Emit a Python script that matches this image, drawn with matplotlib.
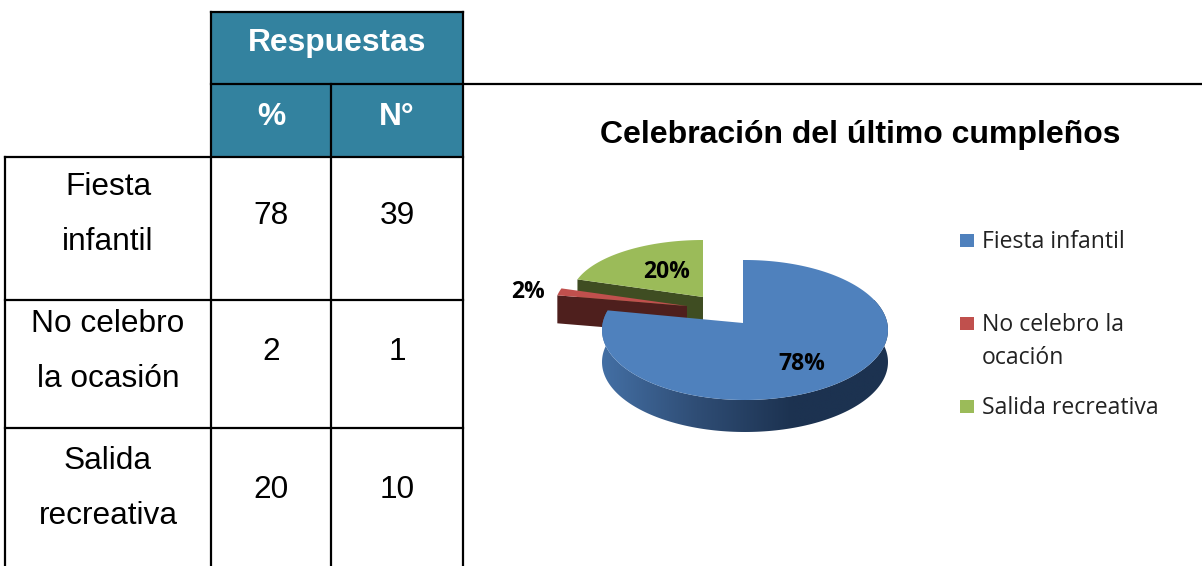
import numpy as np
import matplotlib
matplotlib.use("Agg")
import matplotlib.pyplot as plt
from matplotlib.patches import Polygon, Rectangle
from matplotlib.colors import LinearSegmentedColormap

title = "Celebración del último cumpleños"
header_top = "Respuestas"
header_cols = ["%", "N°"]
row_labels = [["Fiesta", "infantil"], ["No celebro", "la ocasión"], ["Salida", "recreativa"]]
percent = [78, 2, 20]
counts = [39, 1, 10]
legend_labels = [["Fiesta infantil"], ["No celebro la", "ocación"], ["Salida recreativa"]]
colors = ["#4F81BD", "#C0504D", "#9BBB59"]
side_colors = ["#1C3250", "#4E1F1D", "#3F4D22"]

table_font = "Liberation Sans"
chart_font = "Open Sans"
teal = "#33829F"
lw = 1.6

fig = plt.figure(figsize=(12.02, 5.66), dpi=100)
ax = fig.add_axes([0, 0, 1, 1])
ax.set_xlim(0, 1202)
ax.set_ylim(566, 0)
ax.axis("off")

# table
col_x = [5, 211, 331, 463]
row_y = [12, 84, 157, 300, 428, 566]
ax.add_patch(Rectangle((col_x[1], row_y[0]), col_x[3] - col_x[1], row_y[2] - row_y[0], fc=teal, ec="none"))
ax.plot([col_x[1], col_x[3]], [row_y[0]] * 2, "k", lw=lw)
ax.plot([col_x[1], 1202], [row_y[1]] * 2, "k", lw=lw)
for y in row_y[2:5]:
    ax.plot([col_x[0], col_x[3]], [y, y], "k", lw=lw)
ax.plot([col_x[0]] * 2, [row_y[2], 566], "k", lw=lw)
ax.plot([col_x[1]] * 2, [row_y[0], 566], "k", lw=lw)
ax.plot([col_x[2]] * 2, [row_y[1], 566], "k", lw=lw)
ax.plot([col_x[3]] * 2, [row_y[0], 566], "k", lw=lw)

ax.text(337, 43, header_top, color="white", fontsize=22.9, fontweight="bold",
        family=table_font, ha="center", va="center")
for x, s in zip([271, 397], header_cols):
    ax.text(x, 117, s, color="white", fontsize=22.9, fontweight="bold",
            family=table_font, ha="center", va="center")

label_y = [(187, 242), (324, 379), (461, 516)]
value_y = [216, 352, 490]
for i in range(3):
    for y, s in zip(label_y[i], row_labels[i]):
        ax.text(108, y, s, fontsize=22.8, family=table_font, ha="center", va="center")
    ax.text(271, value_y[i], str(percent[i]), fontsize=22.8, family=table_font, ha="center", va="center")
    ax.text(397, value_y[i], str(counts[i]), fontsize=22.8, family=table_font, ha="center", va="center")

ax.text(860, 135, title, fontsize=23, fontweight="bold", family=table_font, ha="center", va="center")

# pie, drawn as tilted wedges
angles = np.cumsum([0] + percent) / 100 * 2 * np.pi


def rim(theta, apex, centre, rx, ry):
    # where the ray from the apex meets the ellipse
    dx, dy = rx * np.sin(theta), -ry * np.cos(theta)
    ox, oy = (apex[0] - centre[0]) / rx, (apex[1] - centre[1]) / ry
    a = (dx / rx) ** 2 + (dy / ry) ** 2
    b = 2 * (ox * dx / rx + oy * dy / ry)
    c = ox ** 2 + oy ** 2 - 1
    s = (-b + np.sqrt(b ** 2 - 4 * a * c)) / (2 * a)
    return np.column_stack([apex[0] + s * dx, apex[1] + s * dy])


# green
apex = (703, 297)
pts = rim(np.linspace(angles[2], angles[3], 60), apex, apex, 132, 57)
d = 28
ax.add_patch(Polygon([pts[0], apex, (apex[0], apex[1] + d), pts[0] + [0, d]], fc=side_colors[2], ec="none"))
ax.add_patch(Polygon(np.vstack([[apex], pts]), fc=colors[2], ec="none"))

# red
apex = (687, 306)
pts = rim(np.linspace(angles[1], angles[2], 12), apex, apex, 132, 57)
ax.add_patch(Polygon([pts[0], apex, (apex[0], apex[1] + d), pts[0] + [0, d]], fc=side_colors[1], ec="none"))
ax.add_patch(Polygon(np.vstack([[apex], pts]), fc=colors[1], ec="none"))

# blue, side wall has a horizontal gradient
apex = (743, 323)
centre = (745, 330)
pts = rim(np.linspace(angles[0], angles[1], 200), apex, centre, 143, 70)
wall = Polygon(np.vstack([pts, pts[::-1] + [0, 32]]), fc="none", ec="none")
ax.add_patch(wall)
cmap = LinearSegmentedColormap.from_list("wall", ["#4470A5", "#2F4D75", side_colors[0], side_colors[0]])
im = ax.imshow(np.linspace(0, 1, 256)[None, :], cmap=cmap, aspect="auto", extent=(600, 890, 440, 300), zorder=1.5)
im.set_clip_path(wall)
ax.set_xlim(0, 1202)
ax.set_ylim(566, 0)
ax.add_patch(Polygon(np.vstack([[apex], pts]), fc=colors[0], ec="none", zorder=2))

pie_label_xy = [(802, 364), (528, 292), (667, 272)]
for (x, y), p in zip(pie_label_xy, percent):
    ax.text(x, y, f"{p}%", fontsize=16.5, fontweight="bold", family=chart_font, ha="center", va="center", zorder=3)

# legend
legend_y = [240, 323, 406]
for y, c, lines in zip(legend_y, colors, legend_labels):
    ax.add_patch(Rectangle((960, y - 6), 14, 13, fc=c, ec="none"))
    for j, s in enumerate(lines):
        ax.text(982, y + 2 + j * 33, s, fontsize=16.6, family=chart_font, color="#222222", ha="left", va="center")

plt.savefig("out.png", dpi=100)
